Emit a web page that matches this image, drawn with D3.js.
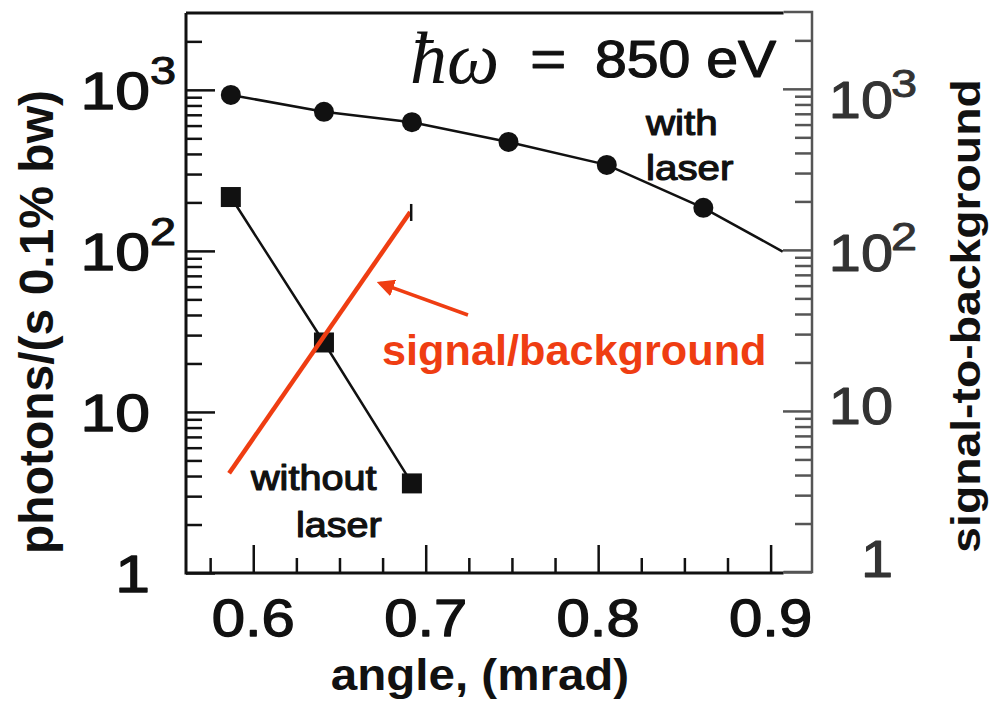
<!DOCTYPE html>
<html><head><meta charset="utf-8">
<script src="https://cdn.jsdelivr.net/npm/d3@7"></script>
<style>
body{margin:0;background:#fff}
svg{display:block}
text{font-family:"Liberation Sans",Arial,Helvetica,sans-serif}
</style>
</head><body>
<svg id="c" width="994" height="705"></svg>
<script>
// ---- data ----
const withLaserAngle   = [0.587, 0.641, 0.692, 0.748, 0.805, 0.861];
const withLaserPhotons = [930, 730, 630, 475, 342, 185];
const withLaserTailAngle   = [0.861, 0.907];
const withLaserTailPhotons = [185, 99];
const withoutLaserAngle   = [0.587, 0.641, 0.692];
const withoutLaserPhotons = [216, 27, 3.6];
const ratioAngle = [0.586, 0.691];
const ratioValue = [4.1, 172];
const xMajorTicks = [0.6, 0.7, 0.8, 0.9];
const xMinorTicks = [0.575, 0.625, 0.65, 0.675, 0.725, 0.75, 0.775, 0.825, 0.85, 0.875];
const xTickLabels = ["0.6", "0.7", "0.8", "0.9"];
const yMajorTicks = [1, 10, 100, 1000];
const yMinorTicks = [2,3,4,5,6,7,8,9,20,30,40,50,60,70,80,90,200,300,400,500,600,700,800,900,2000];
const yTickBase = ["1", "10", "10", "10"];
const yTickExp  = ["", "", "2", "3"];

// ---- layout ----
const svg = d3.select("#c");
const x  = d3.scaleLinear().domain([0.561, 0.924]).range([186, 812]);
const yL = d3.scaleLog().domain([1, 3000]).range([573, 13]);
const yR = d3.scaleLog().domain([1, 3000]).range([572, 12]);
const yRLabel = d3.scaleLog().domain([1, 1000]).range([577, 118]);
const xFrameEnd = 0.9075;
const RED = "#ef3d12", GREY = "#555", LGREY = "#333";

function txt(str, px, py, size, o = {}) {
  const fill = o.fill || "#111";
  const t = svg.append("text")
    .attr("transform", `translate(${px},${py}) rotate(${o.rot||0}) scale(${o.sx||1},1)`)
    .attr("text-anchor", o.anchor || "start")
    .attr("font-size", size)
    .attr("font-weight", o.weight || "normal")
    .attr("fill", fill)
    .text(str);
  if (o.sw) t.attr("stroke", fill).attr("stroke-width", o.sw).attr("stroke-linejoin", "round");
  if (o.family) t.style("font-family", o.family);
  if (o.italic) t.attr("font-style", "italic");
  return t;
}

// ---- frame ----
const frame = svg.append("g").attr("stroke", "#111").attr("stroke-width", 3).attr("fill", "none");
frame.append("line").attr("x1", x(0.561)).attr("x2", x(0.561)).attr("y1", yL(3000)).attr("y2", yL(1)+1.5);
frame.append("line").attr("x1", x(0.561)).attr("x2", x(xFrameEnd)).attr("y1", yL(3000)).attr("y2", yL(3000));
frame.append("line").attr("x1", x(0.561)).attr("x2", x(xFrameEnd)).attr("y1", yL(1)).attr("y2", yL(1));
const rframe = svg.append("g").attr("stroke", GREY).attr("stroke-width", 2.5).attr("fill", "none");
rframe.append("polyline").attr("points", [[x(xFrameEnd), yR(3000)], [x(0.924), yR(3000)], [x(0.924), yR(1)], [x(xFrameEnd), yR(1)]].map(p => p.join(",")).join(" "));

// ---- axes (ticks pointing inward) ----
function styleAxis(g, col, w) {
  g.select(".domain").remove();
  g.selectAll(".tick line").attr("stroke", col).attr("stroke-width", w);
  g.selectAll(".tick text").remove();
}
svg.append("g").attr("transform", `translate(0,${yL(1)})`)
  .call(d3.axisBottom(x).tickValues(xMajorTicks).tickSizeInner(-28).tickSizeOuter(0).tickFormat(""))
  .call(g => styleAxis(g, "#111", 2.5));
svg.append("g").attr("transform", `translate(0,${yL(1)})`)
  .call(d3.axisBottom(x).tickValues(xMinorTicks).tickSizeInner(-15).tickSizeOuter(0).tickFormat(""))
  .call(g => styleAxis(g, "#111", 2.5));
svg.append("g").attr("transform", `translate(${x(0.561)},0)`)
  .call(d3.axisLeft(yL).tickValues(yMajorTicks).tickSizeInner(-29).tickSizeOuter(0).tickFormat(""))
  .call(g => styleAxis(g, "#111", 2.5));
svg.append("g").attr("transform", `translate(${x(0.561)},0)`)
  .call(d3.axisLeft(yL).tickValues(yMinorTicks).tickSizeInner(-16).tickSizeOuter(0).tickFormat(""))
  .call(g => styleAxis(g, "#111", 2.5));
svg.append("g").attr("transform", `translate(${x(0.924)},0)`)
  .call(d3.axisRight(yR).tickValues(yMajorTicks).tickSizeInner(-29).tickSizeOuter(0).tickFormat(""))
  .call(g => styleAxis(g, GREY, 2.5));
svg.append("g").attr("transform", `translate(${x(0.924)},0)`)
  .call(d3.axisRight(yR).tickValues(yMinorTicks.filter(v => v < 3000)).tickSizeInner(-17).tickSizeOuter(0).tickFormat(""))
  .call(g => styleAxis(g, GREY, 2.5));

// ---- tick labels ----
xMajorTicks.forEach((v, i) => txt(xTickLabels[i], x(v), 636, 52, {anchor: "middle", sx: 1.15, sw: 1.3}));
yMajorTicks.forEach((v, i) => {
  txt(yTickBase[i], 150, yL(v) + 19, 52, {anchor: "end", sx: 1.2, sw: 1.3});
  if (yTickExp[i]) txt(yTickExp[i], 150, yL(v) - 6, 39, {sx: 1.2, sw: 1.1});
  const ry = yRLabel(v);
  txt(yTickBase[i], 893, ry, 52, {anchor: "end", sx: 1.11, fill: LGREY, sw: 1});
  if (yTickExp[i]) txt(yTickExp[i], 891, ry - 21, 39, {sx: 1.2, fill: LGREY, sw: 0.9});
});

// ---- axis titles ----
txt("angle, (mrad)", 480, 690, 44, {anchor: "middle", weight: "bold", sx: 1.08});
txt("photons/(s 0.1% bw)", 53, 322, 48, {anchor: "middle", weight: "bold", rot: -90});
txt("signal-to-background", 980, 316, 41, {anchor: "middle", weight: "bold", rot: -90, sx: 1.13});

// ---- series ----
const lineL = d3.line().x(d => x(d[0])).y(d => yL(d[1]));
const lineR = d3.line().x(d => x(d[0])).y(d => yR(d[1]));
const withPts = withLaserAngle.map((a, i) => [a, withLaserPhotons[i]]);
const tailPts = withLaserTailAngle.map((a, i) => [a, withLaserTailPhotons[i]]);
const woPts = withoutLaserAngle.map((a, i) => [a, withoutLaserPhotons[i]]);
const ratioPts = ratioAngle.map((a, i) => [a, ratioValue[i]]);

svg.append("path").attr("d", lineL(withPts.concat(tailPts.slice(1))))
  .attr("fill", "none").attr("stroke", "#111").attr("stroke-width", 2.5);
svg.append("path").attr("d", lineL(woPts))
  .attr("fill", "none").attr("stroke", "#111").attr("stroke-width", 2.5);

svg.append("g").selectAll("circle").data(withPts).join("circle")
  .attr("cx", d => x(d[0])).attr("cy", d => yL(d[1])).attr("r", 10).attr("fill", "#111");
svg.append("g").selectAll("rect").data(woPts).join("rect")
  .attr("x", d => x(d[0]) - 10).attr("y", d => yL(d[1]) - 10)
  .attr("width", 20).attr("height", 20).attr("fill", "#111");

// signal/background (right axis)
svg.append("path").attr("d", lineR(ratioPts))
  .attr("fill", "none").attr("stroke", RED).attr("stroke-width", 4.5);
const last = ratioPts[ratioPts.length - 1];
svg.append("line").attr("x1", x(last[0]) + 1).attr("x2", x(last[0]) + 1)
  .attr("y1", yR(last[1]) - 8).attr("y2", yR(last[1]) + 9)
  .attr("stroke", "#111").attr("stroke-width", 2.5);

// arrow
svg.append("defs").append("marker").attr("id", "ah")
  .attr("viewBox", "0 0 10 10").attr("refX", 8).attr("refY", 5)
  .attr("markerWidth", 5).attr("markerHeight", 5).attr("orient", "auto")
  .append("path").attr("d", "M0,0 L10,5 L0,10 z").attr("fill", RED);
svg.append("line")
  .attr("x1", x(0.7245)).attr("y1", yL(40))
  .attr("x2", x(0.6735)).attr("y2", yL(63))
  .attr("stroke", RED).attr("stroke-width", 3.5).attr("marker-end", "url(#ah)");

// ---- annotations ----
txt("signal/background", 382, 365, 42, {weight: "bold", fill: RED, sx: 1.03});
txt("with", 646, 135, 36, {sx: 1.12, sw: 1.2});
txt("laser", 646, 180, 36, {sx: 1.12, sw: 1.2});
txt("without", 251, 490, 36, {sx: 1.1, sw: 1.2});
txt("laser", 296, 537, 36, {sx: 1.1, sw: 1.2});
txt("ħω", 410, 83, 74, {italic: true, family: "'Liberation Serif','DejaVu Serif',serif"});
txt("=", 530, 77, 52, {sx: 1.2, sw: 0.8});
txt("850 eV", 595, 77, 52, {sx: 1.1, sw: 1.2});
</script>
</body></html>
